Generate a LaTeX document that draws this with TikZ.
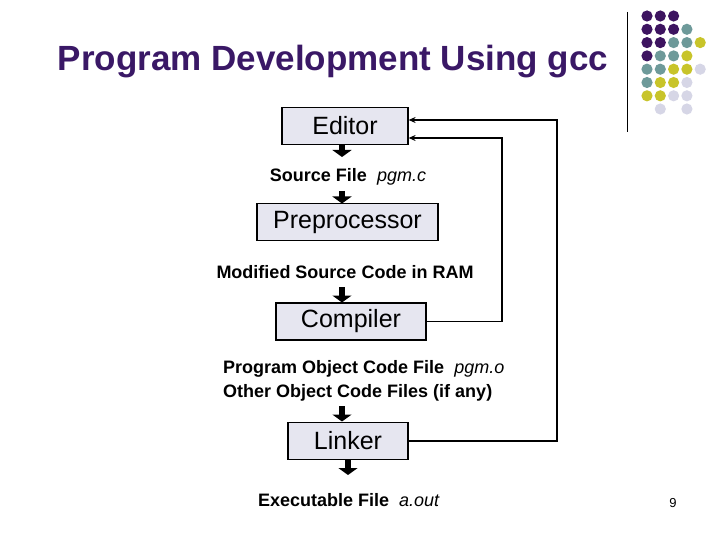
\documentclass[tikz,border=0pt]{standalone}
\usepackage{fontspec}
\setmainfont{Liberation Sans}
\usetikzlibrary{arrows.meta}
\definecolor{ttl}{HTML}{3A1866}
\definecolor{dP}{HTML}{3D1460}
\definecolor{dT}{HTML}{6E9A9A}
\definecolor{dY}{HTML}{C8C42A}
\definecolor{dL}{HTML}{D6D6E6}
\definecolor{boxfill}{HTML}{E6E6F0}
\tikzset{
 stage/.style={draw=black,line width=1.2pt,fill=boxfill,minimum height=37pt,inner sep=0pt,font=\fontsize{25}{29}\selectfont},
 lbl/.style={font=\bfseries\fontsize{18}{22}\selectfont,inner sep=0pt},
 blk/.style={line width=6pt,-{Triangle[width=19pt,length=7pt]}},
 fb/.style={line width=1.2pt,-{Stealth[length=7pt,width=6pt]}},
}
\newcommand{\fname}[1]{\textmd{\textit{#1}}}
\begin{document}
\begin{tikzpicture}[x=1pt,y=-1pt]
\useasboundingbox (0,0) rectangle (720,540);
\node[font=\bfseries\fontsize{35}{40}\selectfont,text=ttl] (title) at (333,62) {Program Development Using gcc};
\draw[line width=0.8pt] (627,12) -- (627,132);
\foreach \r/\row in {0/{P,P,P},1/{P,P,P,T},2/{P,P,T,T,Y},3/{P,T,T,Y},4/{T,T,Y,Y,L},5/{T,Y,Y,L},6/{Y,Y,L,L}}{
  \foreach \c [count=\i from 0] in \row {
    \fill[d\c] (647+13.3*\i,16+13.3*\r) circle (5.6);
  }
}
\fill[dL] (660.3,109) circle (5.6);
\fill[dL] (686.9,109) circle (5.6);
\node[stage,minimum width=126pt] (ed) at (345,126) {Editor};
\node[stage,minimum width=181pt] (pp) at (347.5,222) {Preprocessor};
\node[stage,minimum width=150pt] (cc) at (351,321.5) {Compiler};
\node[stage,minimum width=120pt] (ln) at (348,441) {Linker};
\node[lbl] (src) at (348,177) {Source File\ \ \fname{pgm.c}};
\node[lbl] (mod) at (345,272) {Modified Source Code in RAM};
\node[lbl,anchor=west] (obj) at (223,369) {Program Object Code File\ \ \fname{pgm.o}};
\node[lbl,anchor=west] (oth) at (223,393) {Other Object Code Files (if any)};
\node[lbl] (exe) at (349,500) {Executable File\ \ \fname{a.out}};
\node[font=\fontsize{13}{15}\selectfont] (pg) at (673,503) {9};
\draw[blk] (342,144.5) -- (342,157);
\draw[blk] (342,191) -- (342,203.5);
\draw[blk] (342,287) -- (342,302.5);
\draw[blk] (342,406) -- (342,421.5);
\draw[blk] (348,460) -- (348,475);
\coordinate (c2) at (502,138);
\coordinate (l2) at (557,120);
\draw[fb] (cc.east) -| (c2) -- (ed.east |- c2);
\draw[fb] (ln.east) -| (l2) -- (ed.east |- l2);
\end{tikzpicture}
\end{document}
